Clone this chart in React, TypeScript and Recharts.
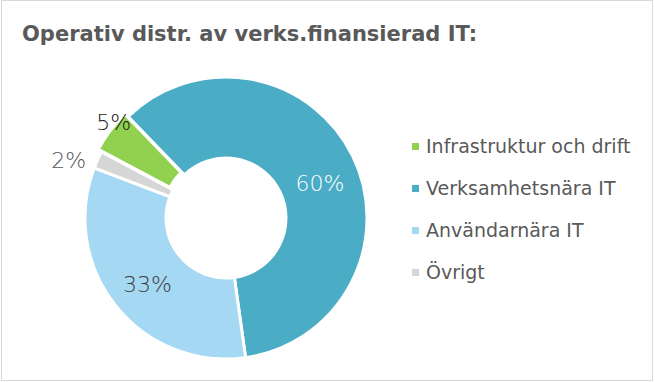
import React from 'react';
import { PieChart, Pie, Cell, Legend } from 'recharts';

const categories = ['Infrastruktur och drift', 'Verksamhetsnära IT', 'Användarnära IT', 'Övrigt'];
const values = [5, 60, 33, 2];
const labelTexts = ['5%', '60%', '33%', '2%'];
const colors = ['#92d050', '#4bacc6', '#a5d8f2', '#d6d6d6'];

const data = categories.map((name, i) => ({ name, value: values[i] }));

const FONT = '"DejaVu Sans", sans-serif';
const RAD = Math.PI / 180;

const labelStyle = [
  { r: 147, color: '#1a1a1a', dx: 5, dy: -7 },
  { r: 100, color: '#ffffff', dx: 4, dy: 9 },
  { r: 103, color: '#404040', dx: 2, dy: 2 },
  { r: 165, color: '#595959', dx: -7, dy: 11 },
];

const renderLabel = (props: any) => {
  const { cx, cy, midAngle, index } = props;
  const s = labelStyle[index];
  const x = cx + s.r * Math.cos(-midAngle * RAD) + s.dx;
  const y = cy + s.r * Math.sin(-midAngle * RAD) + s.dy;
  return (
    <text
      x={x}
      y={y}
      fill={s.color}
      textAnchor="middle"
      dominantBaseline="central"
      style={{ fontFamily: FONT, fontSize: 22, fontWeight: 200 }}
    >
      {labelTexts[index]}
    </text>
  );
};

const renderLegend = () => (
  <div style={{ fontFamily: FONT }}>
    {data.map((d, i) => (
      <div key={i} style={{ display: 'flex', alignItems: 'center', height: 42 }}>
        <span style={{ display: 'inline-block', width: 7, height: 7, background: colors[i], marginRight: 7 }} />
        <span style={{ fontSize: 19, color: '#595959' }}>{d.name}</span>
      </div>
    ))}
  </div>
);

const CX = 226;
const CY = 218;
const EXPLODE = 4;
const greenMid = 143;

export default function App() {
  return (
    <div style={{ position: 'absolute', left: 0, top: 0, width: 655, height: 382, background: '#fff' }}>
      <div
        style={{
          position: 'absolute',
          left: 1,
          top: 0,
          width: 652,
          height: 381,
          border: '1.5px solid #d9d9d9',
          boxSizing: 'border-box',
        }}
      />
      <div
        style={{
          position: 'absolute',
          left: 22,
          top: 22,
          fontFamily: FONT,
          fontWeight: 'bold',
          fontSize: 21,
          color: '#595959',
          whiteSpace: 'nowrap',
        }}
      >
        Operativ distr. av verks.finansierad IT:
      </div>
      <div style={{ position: 'absolute', left: 0, top: 0 }}>
        <PieChart width={655} height={382} margin={{ top: 0, right: 0, bottom: 0, left: 0 }}>
          <Pie
            data={data}
            dataKey="value"
            nameKey="name"
            cx={CX}
            cy={CY}
            innerRadius={60}
            outerRadius={141}
            startAngle={152}
            endAngle={-208}
            stroke="#ffffff"
            strokeWidth={3}
            isAnimationActive={false}
            labelLine={false}
            label={renderLabel}
            legendType="square"
          >
            {data.map((d, i) => (
              <Cell key={d.name} fill={i === 0 ? 'transparent' : colors[i]} stroke={i === 0 ? 'none' : '#ffffff'} />
            ))}
          </Pie>
          <Pie
            data={data}
            dataKey="value"
            nameKey="name"
            cx={CX + EXPLODE * Math.cos(greenMid * RAD)}
            cy={CY - EXPLODE * Math.sin(greenMid * RAD)}
            innerRadius={60}
            outerRadius={141}
            startAngle={152}
            endAngle={-208}
            stroke="#ffffff"
            strokeWidth={3}
            isAnimationActive={false}
            legendType="none"
          >
            {data.map((d, i) => (
              <Cell key={d.name} fill={i === 0 ? colors[0] : 'transparent'} stroke={i === 0 ? '#ffffff' : 'none'} />
            ))}
          </Pie>
          <Legend
            layout="vertical"
            verticalAlign="top"
            align="right"
            content={renderLegend}
            wrapperStyle={{ left: 412, top: 125, width: 240, right: 'auto' }}
          />
        </PieChart>
      </div>
    </div>
  );
}
